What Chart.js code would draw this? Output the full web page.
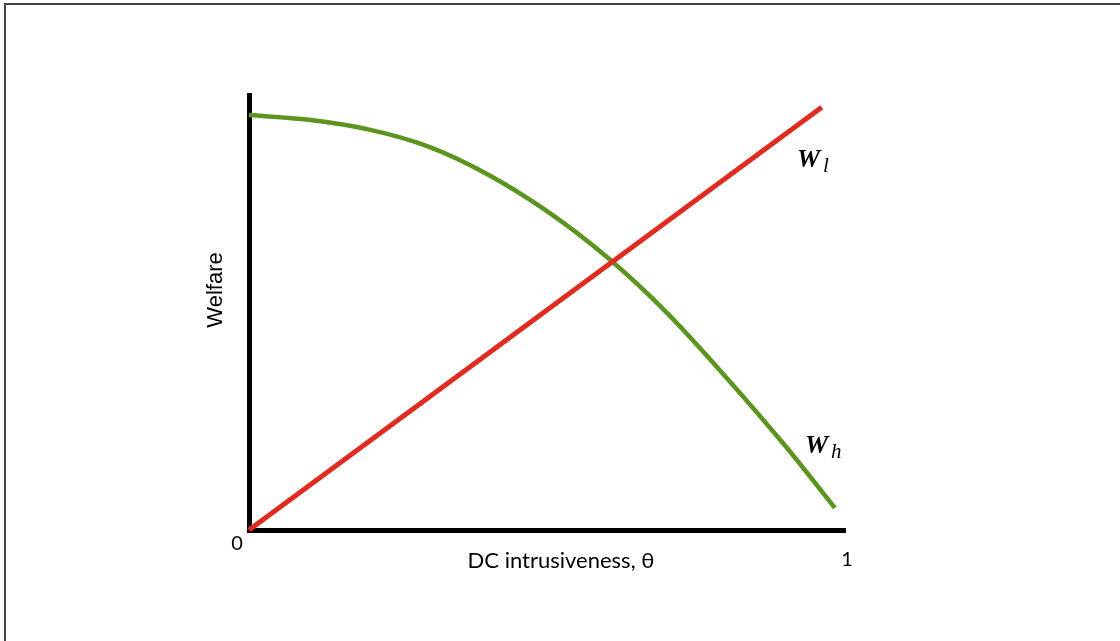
<!DOCTYPE html>
<html>
<head>
<meta charset="utf-8">
<script src="https://cdn.jsdelivr.net/npm/chart.js@4/dist/chart.umd.min.js"></script>
<style>
  html, body { margin: 0; padding: 0; background: #fff; }
  #chart { display: block; }
</style>
</head>
<body>
<canvas id="chart" width="1120" height="641"></canvas>
<script>
// welfare curves (x = intrusiveness 0..1, y = welfare 0..1)
const wlX = [0, 0.961];
const wlY = [0, 0.972];
const whX = [0, 0.1, 0.2, 0.3, 0.4, 0.5, 0.6, 0.7, 0.8, 0.9, 0.983];
const whY = [0.954, 0.943, 0.921, 0.882, 0.818, 0.733, 0.628, 0.501, 0.352, 0.193, 0.051];
const axisTicks = ["0", "1"];
const xTitle = "DC intrusiveness, θ";
const yTitle = "Welfare";

const redColor = "rgb(222, 45, 32)";
const greenColor = "rgb(91, 148, 30)";

function toPoints(xs, ys) {
  return xs.map((x, i) => ({ x: x, y: ys[i] }));
}

// the frame, axis titles, the 0 / 1 marks and the W labels
const extrasPlugin = {
  id: "extras",
  afterDraw(chart) {
    const ctx = chart.ctx;
    const xScale = chart.scales.x;
    const yScale = chart.scales.y;
    const x0 = xScale.getPixelForValue(0);
    const x1 = xScale.getPixelForValue(1);
    const y0 = yScale.getPixelForValue(0);
    ctx.save();

    ctx.strokeStyle = "#444";
    ctx.lineWidth = 2;
    ctx.beginPath();
    ctx.moveTo(1120, 4);
    ctx.lineTo(5, 4);
    ctx.lineTo(5, 641);
    ctx.stroke();

    ctx.fillStyle = "#000";
    ctx.textAlign = "center";
    ctx.textBaseline = "middle";
    ctx.font = "20px Lato";
    ctx.fillText(axisTicks[0], x0 - 12, y0 + 14);
    ctx.fillText(axisTicks[1], x1 + 2, y0 + 30);

    ctx.font = "22px Lato";
    ctx.fillText(xTitle, x0 + 312, y0 + 31);

    ctx.save();
    ctx.translate(x0 - 33, y0 - 240);
    ctx.rotate(-Math.PI / 2);
    ctx.font = "22px 'Liberation Sans'";
    ctx.fillText(yTitle, 0, 0);
    ctx.restore();

    function wLabel(sub, x, y) {
      ctx.textAlign = "left";
      ctx.textBaseline = "alphabetic";
      ctx.font = "italic bold 26px 'Liberation Serif'";
      ctx.fillText("W", x, y);
      ctx.font = "italic 21px 'Liberation Serif'";
      ctx.fillText(sub, x + 26, y + 5);
    }
    wLabel("l", 797, 167);
    wLabel("h", 805, 453);

    ctx.restore();
  }
};

new Chart(document.getElementById("chart"), {
  type: "scatter",
  data: {
    datasets: [
      {
        label: "W_l",
        data: toPoints(wlX, wlY),
        showLine: true,
        borderColor: redColor,
        borderWidth: 5,
        pointRadius: 0,
        clip: false
      },
      {
        label: "W_h",
        data: toPoints(whX, whY),
        showLine: true,
        borderColor: greenColor,
        borderWidth: 4.5,
        pointRadius: 0,
        cubicInterpolationMode: "monotone",
        clip: false
      }
    ]
  },
  options: {
    responsive: false,
    animation: false,
    layout: {
      padding: { left: 249, right: 275, top: 95, bottom: 111 }
    },
    plugins: {
      legend: { display: false },
      tooltip: { enabled: false }
    },
    scales: {
      x: {
        type: "linear",
        min: 0,
        max: 1,
        grid: { display: false, drawTicks: false },
        border: { display: true, width: 5, color: "#000" },
        ticks: { display: false }
      },
      y: {
        type: "linear",
        min: 0,
        max: 1,
        grid: { display: false, drawTicks: false },
        border: { display: true, width: 5, color: "#000" },
        ticks: { display: false }
      }
    }
  },
  plugins: [extrasPlugin]
});
</script>
</body>
</html>
